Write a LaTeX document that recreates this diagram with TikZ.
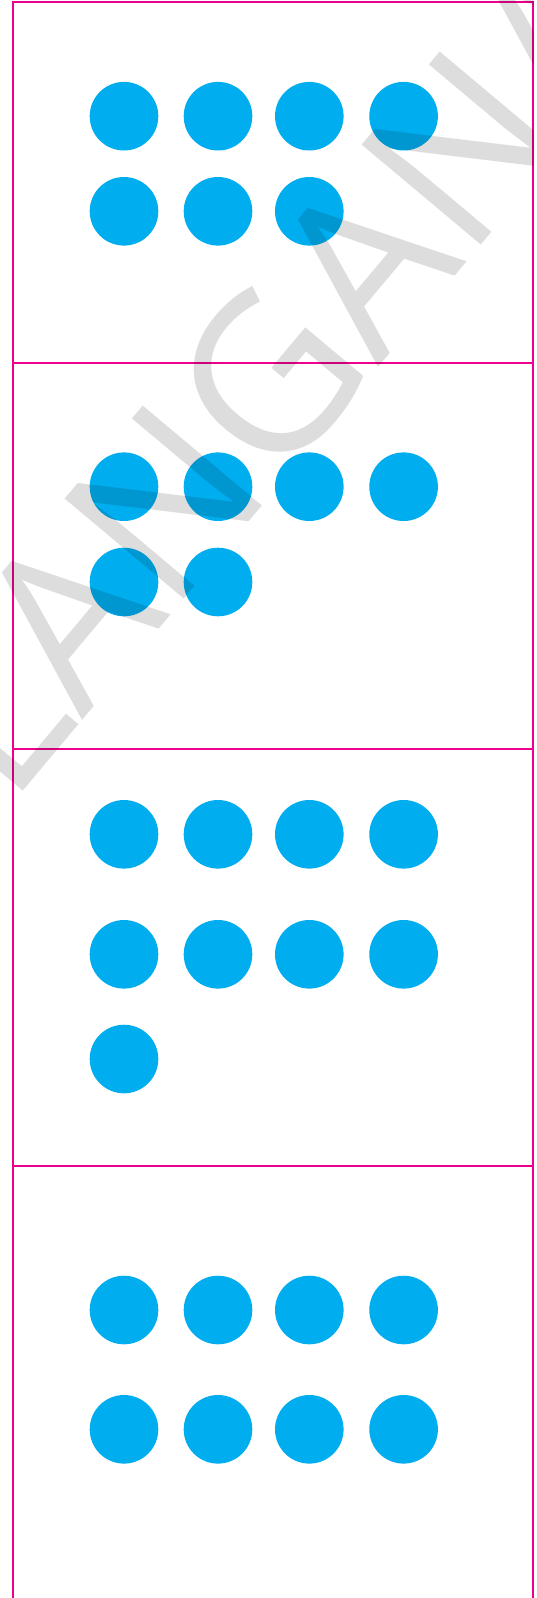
\documentclass[tikz,border=0pt]{standalone}
\usepackage{fontspec}
\newfontfamily\wmfont{Open Sans}
\definecolor{dotblue}{RGB}{0,174,239}
\definecolor{framepink}{RGB}{236,0,140}
\begin{document}
\begin{tikzpicture}[x=1pt,y=-1pt,
  dot/.style={circle,fill=dotblue,minimum size=68.6pt,inner sep=0pt,draw=none},
  frameline/.style={draw=framepink,line width=2pt,line join=miter},
  wm/.style={font=\wmfont\fontsize{218pt}{218pt}\selectfont,text=black,text opacity=0.135,rotate=50,anchor=base west,inner sep=0pt,outer sep=0pt}]
\useasboundingbox[fill=white] (0,0) rectangle (536,1598);
% frame
\coordinate (tl) at (13.3,1.7);
\coordinate (tr) at (532.7,1.7);
\coordinate (bl) at (13.3,1598);
\coordinate (br) at (532.7,1598);
\draw[frameline] (bl) -- (tl) -- (tr) -- (br);
\foreach \n/\y in {a/362.7,b/749.3,c/1166}{
  \coordinate (l\n) at (13.3,\y);
  \coordinate (r\n) at (532.7,\y);
  \draw[frameline] (l\n) -- (r\n);
}
% panel 1
\foreach \i/\x in {1/124,2/218,3/309.3,4/403.6}{\node[dot] (pA1\i) at (\x,116.2) {};}
\foreach \i/\x in {1/124,2/218,3/309.3}{\node[dot] (pA2\i) at (\x,211.3) {};}
% panel 2
\foreach \i/\x in {1/124,2/218,3/309.3,4/403.6}{\node[dot] (pB1\i) at (\x,486.7) {};}
\foreach \i/\x in {1/124,2/218}{\node[dot] (pB2\i) at (\x,582) {};}
% panel 3
\foreach \i/\x in {1/124,2/218,3/309.3,4/403.6}{\node[dot] (pC1\i) at (\x,834.3) {};}
\foreach \i/\x in {1/124,2/218,3/309.3,4/403.6}{\node[dot] (pC2\i) at (\x,954.3) {};}
\node[dot] (pC31) at (124,1059) {};
% panel 4
\foreach \i/\x in {1/124,2/218,3/309.3,4/403.6}{\node[dot] (pD1\i) at (\x,1310) {};}
\foreach \i/\x in {1/124,2/218,3/309.3,4/403.6}{\node[dot] (pD2\i) at (\x,1429.3) {};}
% watermark
\begin{scope}
\clip (0,0) rectangle (533,1598);
\node[wm] (wmark) at (9.5,807.5) {LANGANA};
\end{scope}
\end{tikzpicture}
\end{document}
